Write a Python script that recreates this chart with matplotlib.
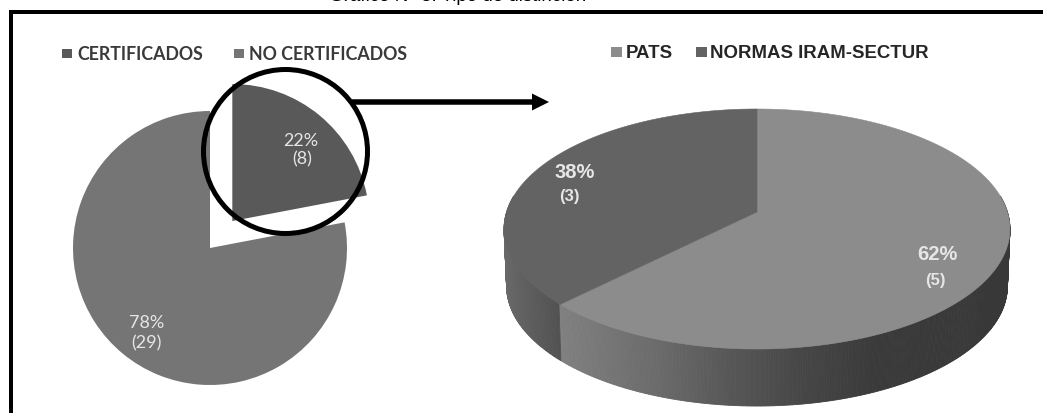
import numpy as np
import matplotlib
matplotlib.use("Agg")
import matplotlib.pyplot as plt
from matplotlib.collections import PolyCollection
from matplotlib.patches import Polygon, Circle, Rectangle

# ---- data ----
title_text = "Gráfico N° 8: Tipo de distinción"
left_labels = ["CERTIFICADOS", "NO CERTIFICADOS"]
left_counts = [8, 29]
left_pcts = [22, 78]
right_labels = ["PATS", "NORMAS IRAM-SECTUR"]
right_counts = [5, 3]
right_pcts = [62, 38]

# ---- styles ----
left_colors = ["#595959", "#757575"]
right_colors = ["#8c8c8c", "#636363"]
W, H = 1043, 414
fig = plt.figure(figsize=(W / 100, H / 100), dpi=100)
ax = fig.add_axes([0, 0, 1, 1])


def Y(py):
    return H - np.asarray(py, dtype=float)


# Left pie
ax.pie(left_pcts, colors=left_colors, startangle=90, counterclock=False,
       center=(210, Y(249)), radius=137, explode=[35, 0], frame=True)
ax.set_xlim(0, W)
ax.set_ylim(0, H)
ax.set_aspect("auto")
ax.axis("off")

# Right pie: perspective view of a circle
cx, apex_y, k, dy_scale, dx_scale, depth = 757, 213, 0.1417, 117.6, 250.4, 57


def project(theta):
    X, Yc = np.sin(theta), np.cos(theta)
    den = 1 + k * Yc
    return cx + dx_scale * X / den, apex_y - dy_scale * Yc / den


th = np.radians(np.linspace(82, 278, 400))
x0, y0 = project(th)
x1, y1 = cx + (x0 - cx) * 0.99, y0 + depth
quads, cols = [], []
boundary = np.radians(360 * right_counts[0] / sum(right_counts))
for i in range(len(th) - 1):
    quads.append([(x0[i], Y(y0[i])), (x0[i + 1], Y(y0[i + 1])),
                  (x1[i + 1], Y(y1[i + 1])), (x1[i], Y(y1[i]))])
    xm = 0.5 * (x0[i] + x0[i + 1])
    if th[i] < boundary:
        g = np.interp(xm, [560, 660, 731, 803, 875, 1010], [0x80, 0x6a, 0x56, 0x46, 0x3a, 0x38])
    else:
        g = np.interp(xm, [505, 560], [0x68, 0x50])
    cols.append((g / 255, g / 255, g / 255))
ax.add_collection(PolyCollection(quads, facecolors=cols, edgecolors=cols, linewidths=0.6, zorder=2))

start = 0.0
for cnt, col in zip(right_counts, right_colors):
    end = start + 2 * np.pi * cnt / sum(right_counts)
    t = np.linspace(start, end, 300)
    px, py = project(t)
    verts = np.column_stack([np.r_[cx, px], Y(np.r_[apex_y, py])])
    ax.add_patch(Polygon(verts, closed=True, facecolor=col, edgecolor=col, lw=0.4, zorder=3))
    start = end

# Labels on slices
lkw = dict(ha="center", va="center", color="#e6e6e6", zorder=5)
llato = dict(family="Lato", fontsize=13, **lkw)
ax.text(301, Y(141), f"{left_pcts[0]}%", **llato)
ax.text(302, Y(159), f"({left_counts[0]})", **llato)
ax.text(147, Y(323), f"{left_pcts[1]}%", **llato)
ax.text(146, Y(343), f"({left_counts[1]})", **llato)
larial = dict(family="Liberation Sans", fontweight="bold", **lkw)
ax.text(575, Y(173), f"{right_pcts[1]}%", fontsize=14.5, **larial)
ax.text(569, Y(196), f"({right_counts[1]})", fontsize=12, **larial)
ax.text(937, Y(255), f"{right_pcts[0]}%", fontsize=14.5, **larial)
ax.text(935, Y(281), f"({right_counts[0]})", fontsize=12, **larial)

# Legends
for mx, tx, lab, col in zip([62, 234], [77, 249], left_labels, left_colors):
    ax.add_patch(Rectangle((mx, Y(59)), 10, 9, facecolor=col, edgecolor="none", zorder=5))
    ax.text(tx, Y(54.5), lab, family="Lato", fontsize=12.8, fontweight="bold",
            color="#3a3a3a", ha="left", va="center", zorder=5)
for mx, tx, lab, col in zip([611, 696], [625.5, 710.5], right_labels, right_colors):
    ax.add_patch(Rectangle((mx, Y(58)), 10.5, 10, facecolor=col, edgecolor="none", zorder=5))
    ax.text(tx, Y(53.5), lab, family="Liberation Sans", fontweight="bold", fontsize=13.4,
            color="#262626", ha="left", va="center", zorder=5)

# Highlight circle and arrow
ax.add_patch(Circle((285.5, Y(152.5)), 82, facecolor="none", edgecolor="black", lw=3.6, zorder=6))
ax.arrow(352, Y(103), 197, 0, width=5.5, head_width=17, head_length=17,
         length_includes_head=True, color="black", lw=0, zorder=6)

# Frame: top and left edges only, plus the title cropped by the top edge
ax.add_patch(Rectangle((9, 0), 4, Y(11), facecolor="black", edgecolor="none", zorder=7))
ax.add_patch(Rectangle((9, Y(15)), W - 9, 4, facecolor="black", edgecolor="none", zorder=7))
ax.text(458, Y(1), title_text, family="Liberation Sans", fontsize=13.5, color="black",
        ha="center", va="baseline", clip_on=False)

fig.savefig("out.png", dpi=100)
